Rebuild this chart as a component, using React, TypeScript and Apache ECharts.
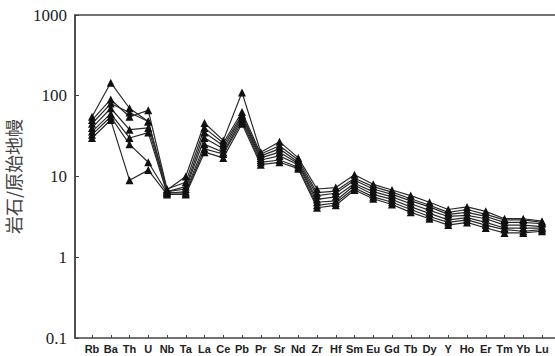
import React, { useEffect, useRef } from "react";
import * as echarts from "echarts";

const elements = ["Rb","Ba","Th","U","Nb","Ta","La","Ce","Pb","Pr","Sr","Nd","Zr","Hf","Sm","Eu","Gd","Tb","Dy","Y","Ho","Er","Tm","Yb","Lu"];

const s1 = [55,145,70,48,6.8,10,46,28,110,20,27,17,7,7.3,10.5,8,6.8,5.8,4.8,3.9,4.2,3.7,3.0,3.0,2.8];
const s2 = [50,90,55,66,7,8.5,40,26,63,19,24,16,6.3,6.6,9.5,7.5,6.4,5.3,4.4,3.6,3.9,3.4,2.9,2.9,2.7];
const s3 = [45,80,62,48,6.5,7.5,35,24,58,18,22,15,5.8,6.2,9,7,6,5,4.2,3.4,3.6,3.2,2.7,2.7,2.6];
const s4 = [40,70,38,40,6.5,7,30,22,55,17,20,14.5,5.2,5.6,8.2,6.5,5.6,4.6,3.8,3.2,3.3,3,2.5,2.5,2.4];
const s5 = [36,60,30,35,6.2,6.5,25,20,52,16,18,14,4.8,5.0,7.8,6,5.2,4.2,3.5,2.9,3.1,2.7,2.3,2.3,2.3];
const s6 = [33,55,25,15,6.3,6.2,22,19,48,15,16,13,4.4,4.7,7.2,5.6,4.8,3.9,3.2,2.7,2.9,2.5,2.2,2.1,2.2];
const s7 = [30,50,9,12,6.0,6.0,20,17,45,14,15,12.5,4.1,4.4,6.8,5.3,4.5,3.6,3.0,2.5,2.7,2.3,2.0,2.0,2.1];

const seriesData = [s1, s2, s3, s4, s5, s6, s7];

export default function App() {
  const ref = useRef<HTMLDivElement>(null);
  useEffect(() => {
    if (!ref.current) return;
    const chart = echarts.init(ref.current, undefined, { renderer: "svg" });
    chart.setOption({
      animation: false,
      backgroundColor: "#ffffff",
      grid: [
        {
          left: 75, top: 15, width: 490, bottom: 18,
          show: true, borderColor: "#444", borderWidth: 1.5,
          containLabel: false, outerBoundsMode: "none",
        },
        {
          left: 92, right: 13, top: 15, bottom: 18,
          containLabel: false, outerBoundsMode: "none",
        },
      ],
      xAxis: [
        { gridIndex: 0, type: "value", show: false, min: 0, max: 1 },
        {
          gridIndex: 1,
          type: "category",
          data: elements,
          boundaryGap: false,
          axisLine: { show: false },
          axisTick: { show: true, inside: true, length: 3, alignWithLabel: true, lineStyle: { color: "#444" } },
          axisLabel: {
            interval: 0,
            margin: 5,
            fontFamily: "Liberation Sans",
            fontWeight: "bold",
            fontSize: 11,
            color: "#222",
          },
          splitLine: { show: false },
        },
      ],
      yAxis: [
        {
          gridIndex: 0,
          type: "log",
          logBase: 10,
          min: 0.1,
          max: 1000,
          name: "岩石/原始地幔",
          nameLocation: "middle",
          nameGap: 40,
          nameRotate: 90,
          nameTextStyle: { fontFamily: "Noto Sans CJK SC", fontSize: 18, color: "#444" },
          axisLine: { show: true, lineStyle: { color: "#444", width: 1.5 } },
          axisTick: { show: true, inside: true, length: 4, lineStyle: { color: "#444" } },
          minorTick: { show: false },
          splitLine: { show: false },
          axisLabel: {
            margin: 8,
            fontFamily: "Liberation Serif",
            fontSize: 17,
            color: "#222",
            formatter: (v: number) => String(v),
          },
        },
        {
          gridIndex: 1,
          type: "log",
          logBase: 10,
          min: 0.1,
          max: 1000,
          show: false,
        },
      ],
      series: seriesData.map((d) => ({
        type: "line",
        xAxisIndex: 1,
        yAxisIndex: 1,
        data: d,
        symbol: "triangle",
        symbolSize: 8,
        itemStyle: { color: "#111" },
        lineStyle: { color: "#2a2a2a", width: 1.2 },
        silent: true,
      })),
    });
    return () => chart.dispose();
  }, []);
  return (
    <div
      ref={ref}
      style={{ position: "fixed", left: 0, top: 0, width: 555, height: 356, overflow: "hidden" }}
    />
  );
}
